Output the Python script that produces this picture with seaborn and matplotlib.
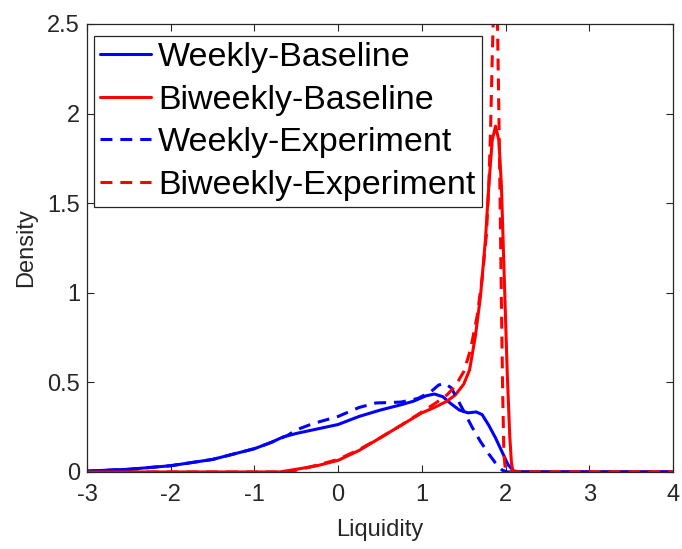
import matplotlib
matplotlib.use("Agg")
import matplotlib.pyplot as plt
import seaborn as sns
import pandas as pd

# Density curves of liquidity, read as (x, density) knots
weekly_base_x = [-3.0, -2.5, -2.0, -1.5, -1.0, -0.8, -0.66, -0.5, -0.25, 0.0, 0.25, 0.5,
                 0.75, 0.9, 1.05, 1.15, 1.25, 1.35, 1.45, 1.55, 1.65, 1.72, 1.80, 1.88,
                 1.96, 2.03, 2.10, 2.2, 3.0, 4.0]
weekly_base_y = [0.005, 0.015, 0.035, 0.07, 0.13, 0.165, 0.195, 0.215, 0.24, 0.265, 0.31, 0.345,
                 0.375, 0.395, 0.425, 0.435, 0.42, 0.38, 0.345, 0.33, 0.335, 0.32, 0.26, 0.19,
                 0.11, 0.04, 0.005, 0.0, 0.0, 0.0]

biweekly_base_x = [-3.0, -0.7, -0.5, -0.25, 0.0, 0.25, 0.5, 0.75, 1.0, 1.15, 1.3, 1.4, 1.5,
                   1.57, 1.64, 1.70, 1.76, 1.80, 1.84, 1.88, 1.92, 1.95, 1.97, 2.0, 2.02,
                   2.05, 2.07, 2.09, 4.0]
biweekly_base_y = [0.0, 0.0, 0.015, 0.035, 0.065, 0.12, 0.19, 0.26, 0.33, 0.36, 0.395, 0.43, 0.49,
                   0.57, 0.76, 0.98, 1.3, 1.6, 1.85, 1.93, 1.85, 1.6, 1.3, 0.85, 0.55,
                   0.2, 0.05, 0.0, 0.0]

weekly_exp_x = [-3.0, -2.5, -2.0, -1.5, -1.0, -0.8, -0.6, -0.5, -0.3, 0.0, 0.25, 0.45, 0.75,
                0.95, 1.1, 1.2, 1.27, 1.35, 1.42, 1.5, 1.6, 1.7, 1.8, 1.88, 1.96, 2.02,
                2.1, 3.0, 4.0]
weekly_exp_y = [0.005, 0.015, 0.035, 0.07, 0.13, 0.165, 0.205, 0.235, 0.27, 0.31, 0.36, 0.385, 0.39,
                0.41, 0.445, 0.485, 0.495, 0.47, 0.41, 0.34, 0.25, 0.17, 0.10, 0.05, 0.01, 0.0,
                0.0, 0.0, 0.0]

biweekly_exp_x = [-3.0, -0.6, -0.4, -0.2, 0.0, 0.25, 0.5, 0.75, 1.0, 1.15, 1.3, 1.4, 1.5,
                  1.58, 1.66, 1.72, 1.77, 1.80, 1.82, 1.84, 1.86, 1.88, 1.90, 1.92, 1.935,
                  1.95, 1.965, 1.98, 2.0, 4.0]
biweekly_exp_y = [0.0, 0.0, 0.02, 0.045, 0.07, 0.125, 0.19, 0.26, 0.335, 0.38, 0.43, 0.48, 0.56,
                  0.68, 0.87, 1.08, 1.32, 1.6, 1.9, 2.3, 2.65, 2.8, 2.6, 2.0, 1.5,
                  0.95, 0.45, 0.1, 0.0, 0.0]

series_names = ["Weekly-Baseline", "Biweekly-Baseline", "Weekly-Experiment", "Biweekly-Experiment"]

x_ticks = [-3, -2, -1, 0, 1, 2, 3, 4]
x_tick_labels = ["-3", "-2", "-1", "0", "1", "2", "3", "4"]
y_ticks = [0, 0.5, 1, 1.5, 2, 2.5]
y_tick_labels = ["0", "0.5", "1", "1.5", "2", "2.5"]

sns.set_theme(style="white")
plt.rcParams["font.family"] = ["Liberation Sans", "DejaVu Sans"]
dark = "#262626"

fig = plt.figure(figsize=(6.82, 5.49), dpi=100)
ax = fig.add_axes([0.1276, 0.1403, 0.8592, 0.8160])

curves = [
    (weekly_base_x, weekly_base_y, "#0000ff", "-"),
    (biweekly_base_x, biweekly_base_y, "#ff0000", "-"),
    (weekly_exp_x, weekly_exp_y, "#0000ff", "--"),
    (biweekly_exp_x, biweekly_exp_y, "#ff0000", "--"),
]
for name, (xs, ys, color, ls) in zip(series_names, curves):
    df = pd.DataFrame({"Liquidity": xs, "Density": ys})
    sns.lineplot(data=df, x="Liquidity", y="Density", ax=ax, color=color,
                 linewidth=2.2, label=name, estimator=None, sort=False)
    line = ax.lines[-1]
    if ls == "--":
        line.set_dashes((3.9, 2.6))

ax.set_xlim(-3, 4)
ax.set_ylim(0, 2.5)
ax.set_xticks(x_ticks)
ax.set_xticklabels(x_tick_labels)
ax.set_yticks(y_ticks)
ax.set_yticklabels(y_tick_labels)
ax.tick_params(direction="in", length=5, width=0.8, color=dark, labelcolor=dark,
               labelsize=17, top=True, right=True, bottom=True, left=True)
ax.tick_params(axis="x", pad=9)
ax.tick_params(axis="y", pad=5)
for sp in ax.spines.values():
    sp.set_visible(True)
    sp.set_color(dark)
    sp.set_linewidth(0.9)

ax.set_xlabel("Liquidity", fontsize=17, color=dark, labelpad=9)
ax.set_ylabel("Density", fontsize=17, color=dark, labelpad=7)

leg = ax.legend(loc="upper left", bbox_to_anchor=(0.012, 0.973), fontsize=24.5,
                frameon=True, fancybox=False, framealpha=1, edgecolor=dark,
                handlelength=1.5, handletextpad=0.2, labelspacing=0.34,
                borderpad=0.18, borderaxespad=0.0)
leg.get_frame().set_linewidth(0.9)
for t in leg.get_texts():
    t.set_color("black")

fig.savefig("out.png", dpi=100)
